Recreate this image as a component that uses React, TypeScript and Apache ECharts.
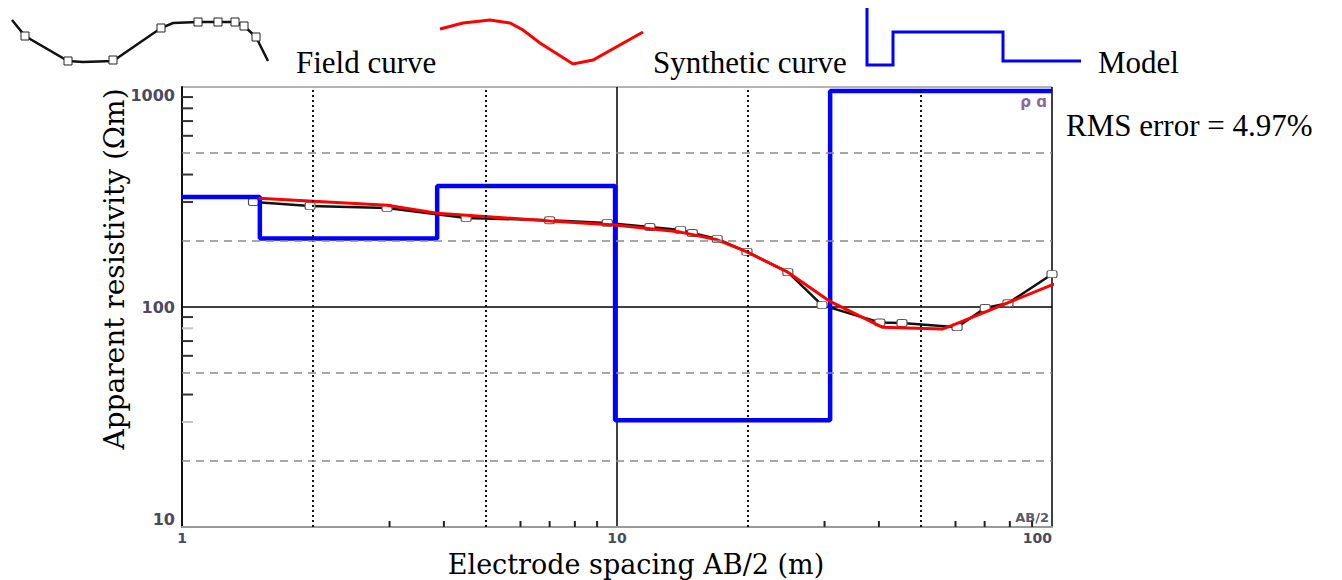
import React, { useEffect, useRef } from "react";
import * as echarts from "echarts";

// ---- Data ----
const fieldSpacing = [1.46, 1.97, 2.96, 4.5, 7.0, 9.5, 11.9, 14.0, 14.9, 17.0, 19.9, 24.7, 29.6, 40.2, 45.2, 60.5, 70.2, 79.2, 100];
const fieldRho = [300, 288, 282, 254, 248, 241, 231, 224, 217, 204, 178, 144, 102, 85, 84.6, 81, 99, 104, 141];
const fieldTail = [108.8, 158];

const synSpacing = [1.5, 2.96, 3.86, 7.0, 9.9, 14.0, 17.0, 19.9, 24.7, 30.9, 40.7, 55.9, 59.2, 100, 110];
const synRho = [312, 290, 267, 246, 236, 219, 202, 178, 144, 106, 81, 79.4, 82.8, 126, 134];

const modelBoundaries = [1.51, 3.86, 9.9, 30.9];
const modelRho = [316, 205, 355, 30.6, 960];

const xMin = 1;
const xMax = 100;
const yMin = 10;
const yMax = 1000;

const xDottedGrid = [2, 5, 20, 50];
const yDashedGrid = [20, 50, 200, 500];
const xMinorTicks = [3, 4, 6, 7, 8, 9, 30, 40, 60, 70, 80, 90];
const yMinorTicks = [40, 60, 70, 90, 300, 400, 600, 700, 800, 900];
const yLightTicks = [30, 80];

const legendTexts = ["Field curve", "Synthetic curve", "Model"];
const rmsText = "RMS error = 4.97%";
const xTitle = "Electrode spacing AB/2 (m)";
const yTitle = "Apparent resistivity (\u03A9m)";

export default function App() {
  const ref = useRef<HTMLDivElement>(null);

  useEffect(() => {
    if (!ref.current) return;
    const chart = echarts.init(ref.current, undefined, { renderer: "svg" });

    const fieldData: any[] = fieldSpacing.map((x, i) => [x, fieldRho[i]]);
    fieldData.push({ value: fieldTail, symbol: "none" });

    const synData = synSpacing.map((x, i) => [x, synRho[i]]);

    const modelData: number[][] = [[xMin, modelRho[0]]];
    modelBoundaries.forEach((b, i) => modelData.push([b, modelRho[i + 1]]));
    modelData.push([xMax, modelRho[modelRho.length - 1]]);

    const xTickData = xMinorTicks.map((v) => [v, yMin]);
    const yTickData = yMinorTicks.map((v) => [xMin, v]);
    const yLightTickData = yLightTicks.map((v) => [xMin, v]);

    const labelBase = {
      fontFamily: "DejaVu Sans",
      fontWeight: "bold" as const,
      color: "#4a4a5e",
    };

    const fieldLegendLine = [
      [12, 20], [25, 36], [68, 61], [83, 62], [113, 61], [161, 28], [173, 23],
      [198, 22], [218, 22], [235, 22], [244, 26], [256, 37], [268, 61],
    ];
    const fieldLegendMarks = [
      [25, 36], [68, 61], [113, 60], [161, 28], [198, 22], [218, 22], [235, 22], [244, 26], [256, 37],
    ];
    const synLegendLine = [
      [440, 29], [463, 23], [490, 20], [510, 23], [523, 30], [540, 43], [573, 64], [593, 60], [643, 32],
    ];
    const modelLegendLine = [
      [867, 8], [867, 65], [893, 65], [893, 32], [1003, 32], [1003, 61], [1081, 61],
    ];

    const legendFont = "31px 'Liberation Serif'";

    const option: any = {
      animation: false,
      backgroundColor: "#ffffff",
      grid: { left: 182, right: 290, top: 87, bottom: 53, containLabel: false },
      xAxis: {
        type: "log",
        logBase: 10,
        min: xMin,
        max: xMax,
        axisLine: { show: true, onZero: false, lineStyle: { color: "#9a9a9a", width: 2 } },
        axisTick: { show: false },
        axisLabel: {
          ...labelBase,
          fontSize: 14,
          lineHeight: 15,
          margin: 3,
          formatter: (v: number) => String(Math.round(v)),
          alignMinLabel: "center",
          alignMaxLabel: "right",
        },
        splitLine: { show: true, lineStyle: { color: "#000", width: 1.5 } },
        minorTick: { show: false },
      },
      yAxis: {
        type: "log",
        logBase: 10,
        min: yMin,
        max: yMax,
        axisLine: { show: true, onZero: false, lineStyle: { color: "#111", width: 2 } },
        axisTick: { show: false },
        axisLabel: {
          ...labelBase,
          fontSize: 16,
          margin: 7,
          formatter: (v: number) => String(Math.round(v)),
          verticalAlignMaxLabel: "top",
          verticalAlignMinLabel: "bottom",
        },
        splitLine: { show: true, lineStyle: { color: ["#9a9a9a", "#000", "#9a9a9a"], width: 1.5 } },
      },
      series: [
        {
          name: "grid",
          type: "line",
          silent: true,
          z: 1,
          data: [],
          markLine: {
            silent: true,
            symbol: "none",
            label: { show: false },
            animation: false,
            data: [
              ...xDottedGrid.map((v) => ({
                xAxis: v,
                lineStyle: { color: "#111", width: 2, type: [2, 3] },
              })),
              ...yDashedGrid.map((v) => ({
                yAxis: v,
                lineStyle: { color: "#8a8a8a", width: 1.5, type: [8, 6] },
              })),
            ],
          },
        },
        {
          name: "x ticks",
          type: "scatter",
          silent: true,
          z: 1,
          clip: false,
          symbol: "rect",
          symbolSize: [2, 6],
          symbolOffset: [0, -3],
          itemStyle: { color: "#222", opacity: 1 },
          data: xTickData,
        },
        {
          name: "y ticks",
          type: "scatter",
          silent: true,
          z: 1,
          clip: false,
          symbol: "rect",
          symbolSize: [11, 2],
          symbolOffset: [5.5, 0],
          itemStyle: { color: "#333", opacity: 1 },
          data: yTickData,
        },
        {
          name: "y light ticks",
          type: "scatter",
          silent: true,
          z: 1,
          clip: false,
          symbol: "rect",
          symbolSize: [11, 2],
          symbolOffset: [5.5, 0],
          itemStyle: { color: "#c4c4c4", opacity: 1 },
          data: yLightTickData,
        },
        {
          name: "Field curve",
          type: "line",
          z: 2,
          clip: false,
          data: fieldData,
          symbol: "roundRect",
          symbolSize: [10, 7],
          showAllSymbol: true,
          lineStyle: { color: "#111", width: 2.5 },
          itemStyle: { color: "#ffffff", borderColor: "#555", borderWidth: 1 },
        },
        {
          name: "Model",
          type: "line",
          z: 3,
          step: "end",
          data: modelData,
          symbol: "none",
          lineStyle: { color: "#0000ff", width: 4.5 },
        },
        {
          name: "Synthetic curve",
          type: "line",
          z: 4,
          clip: false,
          data: synData,
          symbol: "none",
          lineStyle: { color: "#ff0000", width: 3 },
        },
      ],
      graphic: [
        {
          type: "polyline",
          shape: { points: fieldLegendLine },
          style: { stroke: "#111", lineWidth: 2.5, fill: "none" },
        },
        ...fieldLegendMarks.map((p) => ({
          type: "rect",
          shape: { x: p[0] - 4, y: p[1] - 4, width: 8, height: 8 },
          style: { fill: "#fff", stroke: "#222", lineWidth: 1 },
        })),
        {
          type: "polyline",
          shape: { points: synLegendLine },
          style: { stroke: "#ff0000", lineWidth: 3, fill: "none" },
        },
        {
          type: "polyline",
          shape: { points: modelLegendLine },
          style: { stroke: "#0000ff", lineWidth: 3, fill: "none" },
        },
        {
          type: "text",
          x: 296,
          y: 62,
          style: { text: legendTexts[0], font: legendFont, fill: "#000", verticalAlign: "middle" },
        },
        {
          type: "text",
          x: 653,
          y: 62,
          style: { text: legendTexts[1], font: legendFont, fill: "#000", verticalAlign: "middle" },
        },
        {
          type: "text",
          x: 1098,
          y: 62,
          style: { text: legendTexts[2], font: legendFont, fill: "#000", verticalAlign: "middle" },
        },
        {
          type: "text",
          x: 1066,
          y: 125,
          style: { text: rmsText, font: legendFont, fill: "#000", verticalAlign: "middle" },
        },
        {
          type: "text",
          x: 636,
          y: 564,
          style: {
            text: xTitle,
            font: "27px 'DejaVu Serif'",
            fill: "#000",
            align: "center",
            verticalAlign: "middle",
          },
        },
        {
          type: "text",
          x: 114,
          y: 269,
          rotation: Math.PI / 2,
          style: {
            text: yTitle,
            font: "28px 'DejaVu Serif'",
            fill: "#000",
            align: "center",
            verticalAlign: "middle",
          },
        },
        {
          type: "text",
          x: 1047,
          y: 102,
          style: {
            text: "\u03C1 \u0251",
            font: "bold 15px 'DejaVu Sans'",
            fill: "#8a6a9a",
            align: "right",
            verticalAlign: "middle",
          },
        },
        {
          type: "text",
          x: 1049,
          y: 517,
          style: {
            text: "AB/2",
            font: "bold 13px 'DejaVu Sans'",
            fill: "#5a5a6a",
            align: "right",
            verticalAlign: "middle",
          },
        },
      ],
    };

    chart.setOption(option);
    return () => chart.dispose();
  }, []);

  return (
    <div
      ref={ref}
      style={{ position: "fixed", left: 0, top: 0, width: 1342, height: 580, background: "#fff" }}
    />
  );
}
